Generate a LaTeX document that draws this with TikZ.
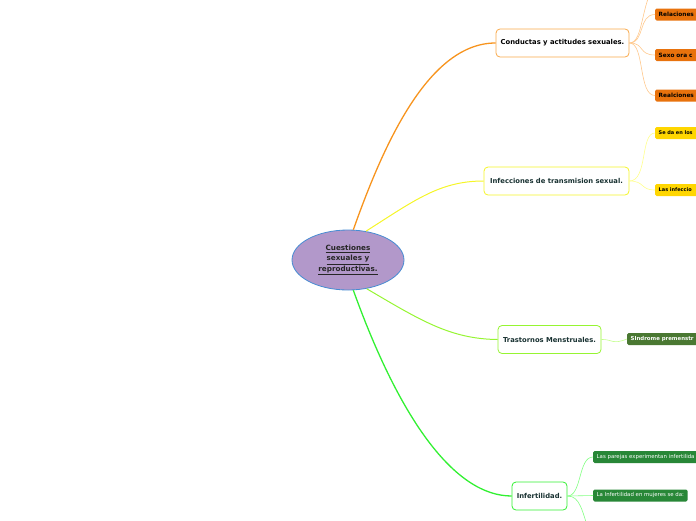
\documentclass[tikz,border=0pt]{standalone}
\usepackage{fontspec}
\setmainfont{DejaVu Sans}
\usetikzlibrary{shapes.geometric}
\definecolor{mmroot}{RGB}{178,152,202}
\definecolor{mmrootline}{RGB}{70,140,210}
\definecolor{mmtext}{RGB}{25,50,50}
\definecolor{mmorange}{RGB}{247,148,30}
\definecolor{mmorangesub}{RGB}{232,114,12}
\definecolor{mmorangelink}{RGB}{255,200,140}
\definecolor{mmyellow}{RGB}{245,245,40}
\definecolor{mmyellowsub}{RGB}{255,214,0}
\definecolor{mmyellowlink}{RGB}{255,255,140}
\definecolor{mmlime}{RGB}{150,245,50}
\definecolor{mmlimesub}{RGB}{74,120,50}
\definecolor{mmlimelink}{RGB}{195,255,140}
\definecolor{mmgreen}{RGB}{50,240,50}
\definecolor{mmgreensub}{RGB}{40,135,55}
\definecolor{mmgreenlink}{RGB}{130,255,130}

\begin{document}
\begin{tikzpicture}[
  x=1pt, y=-1pt,
  root/.style={
    ellipse,
    draw=mmrootline,
    fill=mmroot,
    line width=0.8pt,
    minimum width=112pt,
    minimum height=60pt,
    align=center,
    font=\fontsize{7.2}{10.5}\selectfont\bfseries,
    text=black!85
  },
  topic/.style={
    draw,
    fill=white,
    rounded corners=4pt,
    line width=0.8pt,
    minimum height=28pt,
    inner xsep=3pt,
    font=\fontsize{6.8}{8}\selectfont\bfseries,
    text=mmtext
  },
  sub/.style={
    anchor=west,
    rounded corners=1.5pt,
    minimum height=12pt,
    inner xsep=3.5pt,
    inner ysep=1pt,
    text width=110pt,
    align=left,
    font=\fontsize{5.8}{6}\selectfont\bfseries
  },
  branch/.style={line width=1.3pt},
  twig/.style={line width=0.6pt}
]
\useasboundingbox (0,0) rectangle (696,520);
\clip (0,0) rectangle (696,520);

% centre
\node[root] (cuestiones) at (348,260)
  {\underline{Cuestiones}\\ \underline{sexuales y}\\ \underline{reproductivas.}};

% main topics
\node[topic, draw=mmorange!80, text=black, minimum width=133pt] (conductas) at (562.5,43)
  {Conductas y actitudes sexuales.};
\node[topic, draw=mmyellow, minimum width=145pt] (infecciones) at (556.5,181)
  {Infecciones de transmision sexual.};
\node[topic, draw=mmlime, minimum width=103pt] (trastornos) at (549.5,339.5)
  {Trastornos Menstruales.};
\node[topic, draw=mmgreen, minimum width=55pt] (infertilidad) at (539.5,496)
  {Infertilidad.};

% sub topics
\node[sub, fill=mmorangesub, text=black] (relaciones) at (655,14.5) {Relaciones};
\node[sub, fill=mmorangesub, text=black] (sexo) at (655,55) {Sexo ora c};
\node[sub, fill=mmorangesub, text=black] (realciones) at (655,95.5) {Realciones};
\coordinate (arriba) at (660,-20);

\node[sub, fill=mmyellowsub, text=black, font=\fontsize{5}{6}\selectfont\bfseries] (seda) at (655,133) {Se da en los};
\node[sub, fill=mmyellowsub, text=black, font=\fontsize{5}{6}\selectfont\bfseries] (lasinf) at (655,190) {Las infeccio};

\node[sub, fill=mmlimesub, text=white, font=\fontsize{5.4}{6}\selectfont\bfseries] (sindrome) at (627,339) {SIndrome premenstr};

\node[sub, fill=mmgreensub, text=white, font=\fontsize{5.4}{6}\selectfont] (parejas) at (593,457) {Las parejas experimentan infertilida};
\node[sub, fill=mmgreensub, text=white, font=\fontsize{5.4}{6}\selectfont, text width=, align=center] (mujeres) at (593,495.5) {La Infertilidad en mujeres se da:};
\coordinate (abajo) at (590,535);

% branches
\draw[branch, mmorange] (cuestiones.80) .. controls (385,140) and (430,43) .. (conductas.west);
\draw[branch, mmyellow, line width=1pt] (cuestiones.58) .. controls (415,200) and (440,181) .. (infecciones.west);
\draw[branch, mmlime, line width=1pt] (cuestiones.-57) .. controls (420,320) and (450,339) .. (trastornos.west);
\draw[branch, mmgreen] (cuestiones.-80) .. controls (400,420) and (455,496) .. (infertilidad.west);

% twigs
\draw[twig, mmorangelink] (conductas.east) .. controls (645,43) and (640,-5) .. (arriba);
\draw[twig, mmorangelink] (conductas.east) .. controls (645,43) and (638,14.5) .. (relaciones.west);
\draw[twig, mmorangelink] (conductas.east) .. controls (645,43) and (638,55) .. (sexo.west);
\draw[twig, mmorangelink] (conductas.east) .. controls (645,43) and (638,95.5) .. (realciones.west);

\draw[twig, mmyellowlink] (infecciones.east) .. controls (648,181) and (640,133) .. (seda.west);
\draw[twig, mmyellowlink] (infecciones.east) .. controls (645,181) and (640,190) .. (lasinf.west);

\draw[twig, mmlimelink] (trastornos.east) .. controls (612,339) and (612,345) .. (sindrome.west);

\draw[twig, mmgreenlink] (infertilidad.east) .. controls (582,496) and (578,457) .. (parejas.west);
\draw[twig, mmgreenlink] (infertilidad.east) .. controls (580,496) and (580,495.5) .. (mujeres.west);
\draw[twig, mmgreenlink] (infertilidad.east) .. controls (580,496) and (582,510) .. (abajo);
\end{tikzpicture}
\end{document}
